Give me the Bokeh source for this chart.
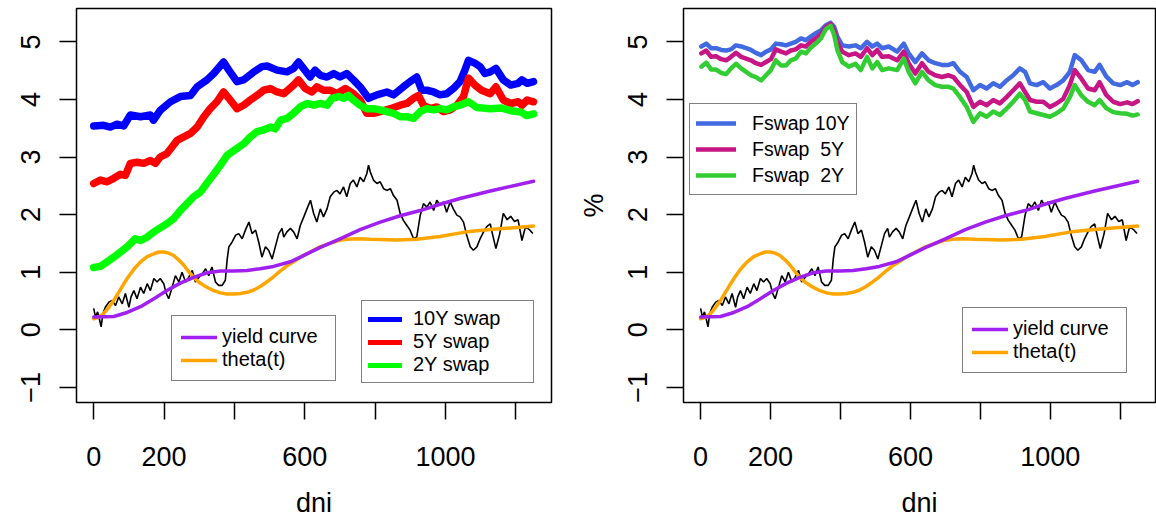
from bokeh.plotting import figure
from bokeh.models import Range1d, FixedTicker, Legend, LegendItem
from bokeh.layouts import row
from bokeh.embed import file_html
from bokeh.resources import INLINE

# ---------------- data ----------------
x_ticks = [0, 200, 400, 600, 800, 1000, 1200]
y_ticks = [-1, 0, 1, 2, 3, 4, 5]

swap10_day = [0, 28, 47, 66, 85, 104, 133, 161, 170, 189, 218, 246, 275, 294, 322, 341, 369, 384, 407, 426,
              455, 478, 493, 521, 549, 568, 582, 596, 615, 629, 644, 663, 682, 700, 719, 738, 757, 781, 805,
              833, 852, 880, 899, 918, 932, 947, 966, 984, 1003, 1022, 1041, 1055, 1065, 1083, 1098, 1112,
              1127, 1143, 1164, 1185, 1206, 1217, 1232, 1250]
swap10_val = [3.54, 3.55, 3.52, 3.57, 3.54, 3.73, 3.70, 3.73, 3.64, 3.81, 3.96, 4.05, 4.07, 4.22, 4.34, 4.45,
              4.65, 4.51, 4.31, 4.34, 4.48, 4.57, 4.58, 4.51, 4.48, 4.54, 4.65, 4.54, 4.39, 4.51, 4.42, 4.39,
              4.45, 4.39, 4.45, 4.34, 4.22, 4.02, 4.08, 4.13, 4.08, 4.22, 4.31, 4.39, 4.16, 4.16, 4.13, 4.08,
              4.10, 4.19, 4.31, 4.51, 4.68, 4.63, 4.57, 4.45, 4.48, 4.54, 4.34, 4.25, 4.28, 4.34, 4.28, 4.31]

swap5_day = [0, 19, 38, 57, 76, 90, 104, 123, 142, 161, 175, 189, 208, 223, 237, 256, 275, 294, 313, 331, 350,
             369, 384, 407, 426, 445, 464, 483, 502, 521, 540, 568, 582, 601, 620, 634, 653, 672, 691, 715, 738,
             757, 776, 795, 814, 843, 871, 890, 909, 923, 937, 956, 975, 994, 1013, 1032, 1051, 1065, 1083,
             1102, 1127, 1143, 1164, 1185, 1206, 1217, 1232, 1250]
swap5_val = [2.54, 2.60, 2.57, 2.63, 2.70, 2.68, 2.89, 2.91, 2.89, 2.94, 2.89, 3.00, 3.06, 3.18, 3.29, 3.35,
             3.41, 3.52, 3.70, 3.84, 3.96, 4.13, 4.02, 3.84, 3.90, 3.99, 4.07, 4.16, 4.19, 4.13, 4.10, 4.25,
             4.34, 4.19, 4.13, 4.22, 4.16, 4.16, 4.10, 4.19, 4.10, 3.99, 3.76, 3.76, 3.79, 3.84, 3.90, 3.93,
             4.02, 4.07, 3.90, 3.84, 3.87, 3.79, 3.82, 3.90, 4.05, 4.37, 4.25, 4.16, 4.10, 4.22, 3.99, 3.93,
             3.96, 3.90, 3.99, 3.96]

swap2_day = [0, 19, 38, 57, 76, 95, 118, 133, 152, 171, 189, 208, 227, 246, 265, 284, 303, 322, 341, 360, 379,
             398, 426, 445, 464, 483, 502, 516, 531, 549, 568, 587, 606, 625, 644, 663, 677, 696, 710, 724, 738,
             757, 776, 795, 814, 833, 852, 871, 890, 909, 928, 947, 966, 984, 1003, 1022, 1041, 1065, 1089,
             1127, 1160, 1190, 1215, 1230, 1250]
swap2_val = [1.08, 1.10, 1.18, 1.26, 1.35, 1.44, 1.58, 1.55, 1.61, 1.70, 1.77, 1.84, 1.93, 2.07, 2.19, 2.31,
             2.39, 2.55, 2.70, 2.86, 3.03, 3.11, 3.23, 3.35, 3.44, 3.47, 3.52, 3.49, 3.64, 3.67, 3.76, 3.87,
             3.93, 3.90, 3.93, 3.90, 4.02, 4.05, 4.02, 4.07, 3.99, 3.90, 3.84, 3.84, 3.82, 3.79, 3.76, 3.70,
             3.70, 3.67, 3.79, 3.84, 3.82, 3.84, 3.82, 3.87, 3.90, 3.96, 3.86, 3.84, 3.85, 3.80, 3.78, 3.72,
             3.75]

rate_day = [0, 5, 11, 17, 21, 26, 33, 43, 52, 62, 71, 81, 90, 100, 106, 114, 123, 133, 142, 152, 161, 171, 180,
            189, 199, 206, 213, 223, 232, 242, 251, 261, 270, 280, 289, 299, 308, 318, 327, 336, 346, 355, 365,
            374, 379, 384, 393, 403, 412, 422, 431, 441, 450, 460, 469, 478, 488, 497, 507, 516, 526, 535, 540,
            549, 559, 568, 578, 587, 597, 606, 616, 625, 634, 644, 653, 663, 672, 682, 691, 700, 710, 719, 729,
            738, 748, 757, 767, 776, 781, 786, 795, 805, 814, 824, 833, 843, 852, 862, 871, 880, 890, 899, 909,
            918, 928, 937, 947, 956, 966, 975, 984, 994, 1003, 1013, 1022, 1032, 1041, 1051, 1060, 1070, 1079,
            1089, 1098, 1108, 1117, 1127, 1133, 1143, 1154, 1164, 1175, 1185, 1196, 1206, 1217, 1227, 1238, 1248]
rate_val = [0.37, 0.22, 0.31, 0.16, 0.05, 0.28, 0.39, 0.48, 0.51, 0.42, 0.57, 0.45, 0.63, 0.39, 0.57, 0.68,
            0.54, 0.74, 0.63, 0.80, 0.68, 0.89, 0.83, 0.89, 0.80, 0.63, 0.54, 0.74, 0.94, 0.83, 1.00, 0.83,
            0.91, 1.03, 0.83, 0.91, 0.97, 1.06, 0.94, 1.09, 0.83, 0.77, 0.77, 0.86, 1.21, 1.44, 1.52, 1.64,
            1.67, 1.58, 1.73, 1.87, 1.67, 1.73, 1.52, 1.26, 1.44, 1.38, 1.23, 1.44, 1.67, 1.76, 1.61, 1.70,
            1.76, 1.70, 1.58, 1.81, 1.96, 2.10, 2.25, 2.02, 1.87, 2.10, 1.96, 2.10, 2.31, 2.39, 2.42, 2.36,
            2.48, 2.31, 2.54, 2.60, 2.48, 2.65, 2.57, 2.71, 2.86, 2.74, 2.60, 2.54, 2.57, 2.45, 2.42, 2.45,
            2.33, 2.25, 2.02, 1.90, 1.81, 1.73, 1.58, 1.61, 1.99, 2.19, 2.13, 2.22, 2.07, 2.25, 2.16, 2.22,
            2.04, 2.22, 2.10, 1.99, 1.96, 1.87, 1.64, 1.44, 1.38, 1.44, 1.58, 1.70, 1.79, 1.84, 1.67, 1.41,
            1.67, 2.02, 1.91, 1.97, 1.88, 1.91, 1.55, 1.79, 1.74, 1.67]

curve_day = [0, 57, 95, 133, 171, 208, 246, 284, 322, 360, 398, 436, 473, 511, 559, 587, 644, 700, 757, 814,
             871, 928, 984, 1041, 1127, 1250]
curve_val = [0.22, 0.23, 0.30, 0.40, 0.54, 0.68, 0.81, 0.91, 0.99, 1.02, 1.02, 1.03, 1.06, 1.10, 1.18, 1.26,
             1.43, 1.58, 1.74, 1.87, 1.98, 2.07, 2.18, 2.28, 2.41, 2.58]

theta_day = [0, 14, 28, 43, 57, 76, 95, 114, 133, 152, 171, 185, 199, 213, 227, 242, 256, 270, 284, 298, 313,
             327, 341, 360, 379, 398, 417, 436, 455, 473, 492, 511, 530, 549, 568, 591, 615, 643, 672, 695, 719,
             750, 785, 861, 918, 984, 1060, 1127, 1250]
theta_val = [0.19, 0.22, 0.28, 0.39, 0.51, 0.70, 0.89, 1.05, 1.18, 1.27, 1.32, 1.35, 1.35, 1.33, 1.29, 1.21,
             1.12, 1.01, 0.91, 0.83, 0.77, 0.72, 0.68, 0.64, 0.62, 0.62, 0.63, 0.65, 0.69, 0.75, 0.83, 0.92,
             1.02, 1.11, 1.18, 1.27, 1.35, 1.44, 1.50, 1.55, 1.57, 1.58, 1.57, 1.56, 1.57, 1.62, 1.70, 1.74,
             1.80]

fswap10_day = [2, 16, 30, 44, 59, 73, 87, 101, 116, 130, 144, 158, 173, 187, 201, 215, 230, 244, 258, 272, 287,
               301, 315, 329, 344, 358, 372, 382, 391, 405, 424, 443, 458, 476, 491, 505, 519, 538, 562, 581,
               595, 614, 633, 652, 671, 690, 709, 723, 742, 761, 780, 799, 818, 837, 856, 875, 894, 913, 928,
               942, 961, 980, 999, 1018, 1037, 1056, 1070, 1089, 1108, 1127, 1141, 1160, 1180, 1200, 1220,
               1235, 1250]
fswap10_val = [4.92, 4.97, 4.89, 4.89, 4.86, 4.85, 4.87, 4.94, 4.92, 4.89, 4.86, 4.81, 4.77, 4.83, 4.87, 4.97,
               4.96, 4.94, 4.97, 5.00, 5.06, 5.03, 5.09, 5.15, 5.20, 5.29, 5.33, 5.26, 5.09, 4.94, 4.92, 4.94,
               4.89, 5.00, 4.92, 4.97, 4.89, 4.92, 4.83, 4.97, 4.80, 4.65, 4.80, 4.68, 4.63, 4.60, 4.60, 4.63,
               4.48, 4.39, 4.16, 4.25, 4.19, 4.28, 4.22, 4.33, 4.42, 4.54, 4.48, 4.28, 4.25, 4.30, 4.19, 4.25,
               4.33, 4.48, 4.77, 4.68, 4.51, 4.48, 4.60, 4.40, 4.28, 4.25, 4.30, 4.25, 4.30]

fswap5_day = fswap10_day
fswap5_val = [4.80, 4.85, 4.74, 4.75, 4.70, 4.68, 4.74, 4.81, 4.74, 4.71, 4.68, 4.63, 4.60, 4.65, 4.70, 4.87,
              4.83, 4.80, 4.85, 4.87, 4.94, 4.92, 5.00, 5.06, 5.13, 5.26, 5.31, 5.20, 5.00, 4.83, 4.77, 4.80,
              4.74, 4.89, 4.77, 4.86, 4.74, 4.75, 4.68, 4.83, 4.63, 4.45, 4.63, 4.48, 4.42, 4.39, 4.42, 4.39,
              4.25, 4.13, 3.87, 3.96, 3.90, 3.99, 3.93, 4.04, 4.16, 4.28, 4.13, 3.99, 3.96, 3.96, 3.87, 3.93,
              4.01, 4.25, 4.51, 4.36, 4.19, 4.16, 4.30, 4.08, 3.96, 3.92, 3.95, 3.92, 3.97]

fswap2_day = fswap10_day
fswap2_val = [4.57, 4.64, 4.52, 4.52, 4.46, 4.44, 4.54, 4.62, 4.54, 4.48, 4.42, 4.39, 4.33, 4.42, 4.51, 4.68,
              4.59, 4.59, 4.68, 4.71, 4.83, 4.80, 4.90, 4.97, 5.06, 5.22, 5.28, 5.12, 4.86, 4.65, 4.57, 4.62,
              4.51, 4.74, 4.54, 4.65, 4.51, 4.54, 4.51, 4.71, 4.48, 4.28, 4.48, 4.33, 4.25, 4.22, 4.22, 4.19,
              4.04, 3.87, 3.61, 3.76, 3.70, 3.79, 3.73, 3.84, 3.96, 4.10, 3.99, 3.79, 3.76, 3.73, 3.70, 3.76,
              3.84, 4.04, 4.25, 4.07, 3.96, 3.90, 3.99, 3.85, 3.78, 3.76, 3.75, 3.72, 3.74]

# ---------------- styling ----------------
FONT = "Liberation Sans"
X_RANGE = (-49, 1301)
Y_RANGE = (-1.264, 5.58)
ROUND = dict(line_cap="round", line_join="round")


def make_fig(width, left, right, ylabel=None):
    p = figure(width=width, height=523, output_backend="svg", toolbar_location=None,
               x_range=Range1d(*X_RANGE), y_range=Range1d(*Y_RANGE),
               min_border_left=left, min_border_right=right, min_border_top=8, min_border_bottom=121,
               background_fill_color="white", border_fill_color="white")
    p.outline_line_color = "black"
    p.outline_line_width = 1.5
    p.xgrid.visible = False
    p.ygrid.visible = False
    for ax in (p.xaxis[0], p.yaxis[0]):
        ax.axis_line_color = None
        ax.major_tick_in = 0
        ax.major_tick_out = 17
        ax.major_tick_line_width = 1.5
        ax.major_tick_line_color = "black"
        ax.minor_tick_line_color = None
        ax.major_label_text_font = FONT
        ax.major_label_text_font_size = "27px"
        ax.major_label_text_color = "black"
        ax.axis_label_text_font = FONT
        ax.axis_label_text_font_size = "27px"
        ax.axis_label_text_font_style = "normal"
        ax.axis_label_text_color = "black"
    xa = p.xaxis[0]
    xa.ticker = FixedTicker(ticks=x_ticks)
    xa.major_label_overrides = {400: "", 800: "", 1200: ""}
    xa.major_label_standoff = 27
    xa.axis_label = "dni"
    xa.axis_label_standoff = 19
    ya = p.yaxis[0]
    ya.ticker = FixedTicker(ticks=y_ticks)
    ya.major_label_overrides = {-1: "\u22121"}
    ya.major_label_orientation = "vertical"
    ya.major_label_standoff = 19
    if ylabel:
        ya.axis_label = ylabel
        ya.axis_label_standoff = 17
    return p


def make_legend(p, items, loc, glyph_w, standoff, label_w, row_h, pad, size="20px"):
    leg = Legend(items=items, location=loc, margin=0, padding=pad, spacing=0,
                 glyph_width=glyph_w, glyph_height=row_h, label_height=row_h,
                 label_standoff=standoff, label_width=label_w,
                 label_text_font=FONT, label_text_font_size=size, label_text_color="black",
                 border_line_color="black", border_line_width=1.5,
                 background_fill_color="white", background_fill_alpha=1.0)
    p.add_layout(leg)
    return leg


# ---------------- left panel ----------------
p1 = make_fig(563, 76, 12)
p1.line(rate_day, rate_val, line_color="black", line_width=1.6)
th1 = p1.line(theta_day, theta_val, line_color="#FFA500", line_width=3.5, **ROUND)
yc1 = p1.line(curve_day, curve_val, line_color="#A020F0", line_width=3.5, **ROUND)
# thinner copies underneath give the legend its thinner sample lines
k10 = p1.line(swap10_day, swap10_val, line_color="#0000FF", line_width=5, **ROUND)
p1.line(swap10_day, swap10_val, line_color="#0000FF", line_width=7.5, **ROUND)
k5 = p1.line(swap5_day, swap5_val, line_color="#FF0000", line_width=5, **ROUND)
p1.line(swap5_day, swap5_val, line_color="#FF0000", line_width=7.5, **ROUND)
k2 = p1.line(swap2_day, swap2_val, line_color="#00FF00", line_width=5, **ROUND)
p1.line(swap2_day, swap2_val, line_color="#00FF00", line_width=7.5, **ROUND)

make_legend(p1, [LegendItem(label="yield curve", renderers=[yc1]),
                 LegendItem(label="theta(t)", renderers=[th1])],
            (95, 21), 36, 5, 104, 22, 9)
make_legend(p1, [LegendItem(label="10Y swap", renderers=[k10]),
                 LegendItem(label="5Y swap", renderers=[k5]),
                 LegendItem(label="2Y swap", renderers=[k2])],
            (285, 19), 34, 11, 114, 20, 6)

# ---------------- right panel ----------------
p2 = make_fig(593, 120, 1, ylabel="%")
p2.line(rate_day, rate_val, line_color="black", line_width=1.6)
th2 = p2.line(theta_day, theta_val, line_color="#FFA500", line_width=3.5, **ROUND)
yc2 = p2.line(curve_day, curve_val, line_color="#A020F0", line_width=3.5, **ROUND)
f10 = p2.line(fswap10_day, fswap10_val, line_color="#4169E1", line_width=4.5, **ROUND)
f5 = p2.line(fswap5_day, fswap5_val, line_color="#C71585", line_width=4.5, **ROUND)
f2 = p2.line(fswap2_day, fswap2_val, line_color="#32CD32", line_width=4.5, **ROUND)

make_legend(p2, [LegendItem(label="Fswap 10Y", renderers=[f10]),
                 LegendItem(label="Fswap  5Y", renderers=[f5]),
                 LegendItem(label="Fswap  2Y", renderers=[f2])],
            (6, 207), 40, 16, 90, 26, 6, "19.5px")
make_legend(p2, [LegendItem(label="yield curve", renderers=[yc2]),
                 LegendItem(label="theta(t)", renderers=[th2])],
            (279, 29), 36, 5, 104, 22, 9)

layout = row(p1, p2, spacing=0)
open("out.html", "w").write(file_html(layout, INLINE))
